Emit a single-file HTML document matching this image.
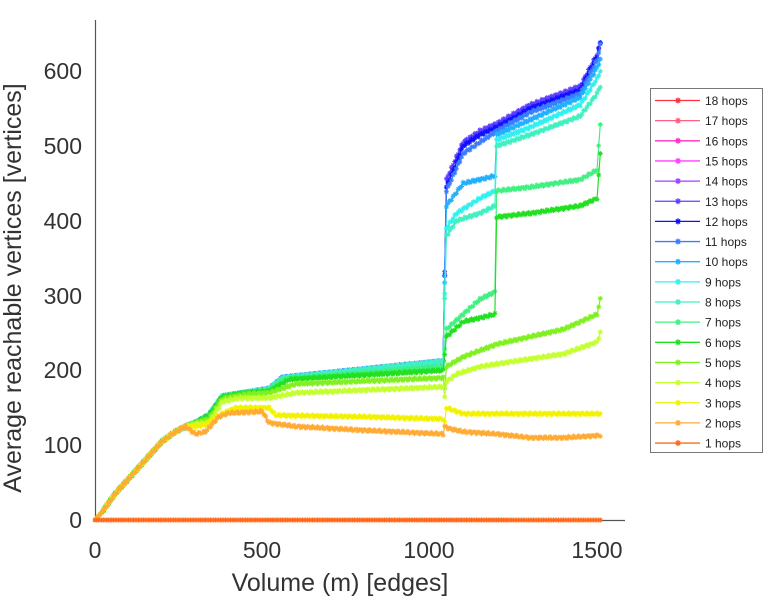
<!DOCTYPE html>
<html><head><meta charset="utf-8"><style>
body{margin:0;background:#fff;width:772px;height:600px;overflow:hidden}
svg{font-family:"Liberation Sans",sans-serif}
</style></head><body>
<svg id="s" width="772" height="600" xmlns="http://www.w3.org/2000/svg">
<g stroke="#555" stroke-width="1.2" fill="none">
<path d="M95.5 20V520.5H625"/>
</g>
<g fill="#333" font-size="23" text-anchor="middle">
<text x="95" y="558">0</text><text x="262" y="558">500</text><text x="429" y="558">1000</text><text x="597" y="558">1500</text>
</g>
<g fill="#333" font-size="23" text-anchor="end">
<text x="82" y="528">0</text><text x="82" y="453">100</text><text x="82" y="378">200</text><text x="82" y="304">300</text><text x="82" y="229">400</text><text x="82" y="154">500</text><text x="82" y="79">600</text>
</g>
<text x="340" y="591" font-size="25" fill="#333" text-anchor="middle">Volume (m) [edges]</text>
<text transform="translate(21,288) rotate(-90)" font-size="25" fill="#333" text-anchor="middle">Average reachable vertices [vertices]</text>
<g id="data"></g>
<rect x="650.5" y="88.5" width="112" height="364" fill="#fff" stroke="#777" stroke-width="1"/>
<g id="leg" font-size="12" fill="#222"></g>
</svg>
<script>
var X=function(m){return 95+m*502/1500},Y=function(v){return 520-v*0.748};
var base=[[0,0],[20,10],[60,35],[100,55],[150,80],[200,105],[240,118],[270,125]];
var hi=[[300,130],[340,140],[380,165],[450,170],[520,175],[560,190],[1040,212]];
var S={
1:[[0,0],[1510,0]],
2:base.concat([[300,115],[330,118],[370,138],[400,143],[500,145],[520,130],[600,125],[800,120],[1040,115],[1045,125],[1060,122],[1100,118],[1200,115],[1300,110],[1400,110],[1510,113]]),
3:base.concat([[300,125],[330,128],[370,140],[420,150],[520,150],[540,140],[800,138],[1040,135],[1043,122],[1050,150],[1100,142],[1510,142]]),
4:base.concat([[300,128],[340,130],[380,158],[430,163],[520,163],[600,170],[1040,178],[1043,155],[1050,185],[1080,195],[1150,205],[1250,212],[1400,222],[1500,238],[1510,250]]),
5:base.concat([[300,130],[340,135],[380,162],[450,168],[520,170],[600,182],[1040,190],[1043,165],[1050,205],[1100,218],[1200,235],[1300,245],[1400,255],[1500,275],[1510,295]]),
6:base.concat([[300,130],[340,140],[380,165],[450,170],[520,172],[580,188],[1040,200],[1050,245],[1100,265],[1195,275],[1200,405],[1300,410],[1450,420],[1500,430],[1510,490]]),
7:base.concat([[300,130],[340,140],[380,165],[450,170],[520,174],[560,188],[1040,205],[1050,255],[1100,275],[1150,295],[1195,305],[1200,440],[1300,445],[1450,455],[1500,468],[1510,530]]),
8:base.concat(hi,[[1050,380],[1080,400],[1150,410],[1195,420],[1200,500],[1300,515],[1450,540],[1500,570],[1510,580]]),
9:base.concat(hi,[[1050,390],[1080,410],[1150,430],[1195,440],[1200,508],[1300,525],[1450,555],[1500,590],[1510,600]]),
10:base.concat(hi,[[1050,420],[1100,450],[1195,460],[1200,515],[1300,535],[1450,565],[1500,605],[1510,615]]),
11:base.concat(hi,[[1050,440],[1100,490],[1150,505],[1200,520],[1300,545],[1450,570],[1500,615],[1510,635]]),
12:base.concat(hi,[[1050,445],[1100,500],[1150,515],[1200,525],[1300,550],[1450,575],[1500,620],[1510,638]]),
13:base.concat(hi,[[1050,455],[1100,505],[1150,520],[1200,530],[1300,555],[1450,580],[1500,622],[1510,638]])
};
var C={1:"#ff6a1a",2:"#ffaa33",3:"#f2f200",4:"#c4ff30",5:"#80f020",6:"#20e020",7:"#40f080",8:"#40f0c0",9:"#30f0f0",10:"#20b0ff",11:"#3c7cff",12:"#1010ff",13:"#6040ff",14:"#a040ff",15:"#ff40ff",16:"#ff30c0",17:"#ff6080",18:"#ff3040"};
function interp(k,m){for(var i=1;i<k.length;i++){if(m<=k[i][0]){var a=k[i-1],b=k[i],t=(m-a[0])/(b[0]-a[0]||1);return a[1]+t*(b[1]-a[1]);}}return k[k.length-1][1];}
function star(x,y,r){return "M"+(x-r)+" "+y+"h"+2*r+"M"+x+" "+(y-r)+"v"+2*r+"M"+(x-r*.7)+" "+(y-r*.7)+"l"+1.4*r+" "+1.4*r+"M"+(x-r*.7)+" "+(y+r*.7)+"l"+1.4*r+" "+(-1.4*r);}
var out="";
for(var s=13;s>=1;s--){var k=S[s],pts=[],mk="";
 for(var m=0;m<=1510;m+=5){var v=interp(k,m)+(s>1&&m>20?Math.sin(m*1.7+s)*1.5:0);var x=X(m),y=Y(v);pts.push(x.toFixed(1)+","+y.toFixed(1));mk+=star(x.toFixed(1)*1,y.toFixed(1)*1,2.5);}
 out+='<polyline points="'+pts.join(" ")+'" fill="none" stroke="'+C[s]+'" stroke-width="1.2"/><path d="'+mk+'" stroke="'+C[s]+'" stroke-width="1" fill="none"/>';}
document.getElementById("data").innerHTML=out;
var L="";for(var i=0;i<18;i++){var h=18-i,y=100.5+i*20.15,c=C[h];
L+='<line x1="655" x2="700" y1="'+y+'" y2="'+y+'" stroke="'+c+'" stroke-width="1.3"/><path d="'+star(678,y,3)+'" stroke="'+c+'" stroke-width="1.3"/><text x="705" y="'+(y+4.5)+'">'+h+' hops</text>';}
document.getElementById("leg").innerHTML=L;
</script>
</body></html>
